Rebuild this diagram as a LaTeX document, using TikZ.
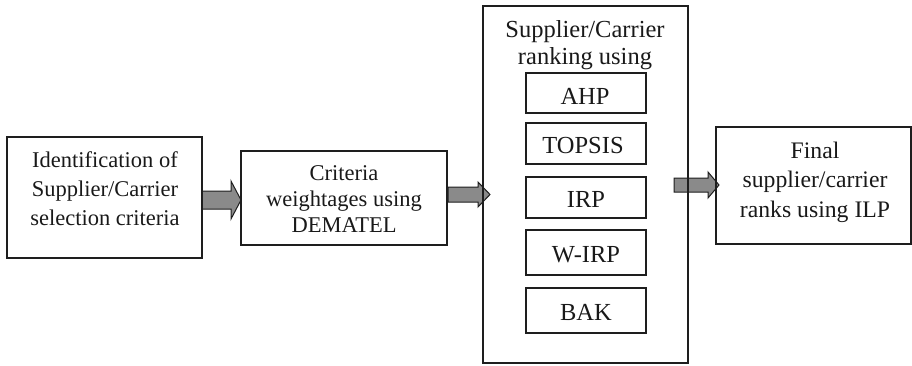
\documentclass[tikz,border=0pt]{standalone}
\usepackage{fontspec}
\setmainfont{Liberation Serif}
\definecolor{arrowgray}{RGB}{138,138,138}
\definecolor{linegray}{RGB}{30,30,30}
\begin{document}
\begin{tikzpicture}[x=1pt,y=-1pt,
  box/.style={draw=linegray,line width=1.2pt,inner sep=0pt,rectangle},
  blockarrow/.style={draw=linegray,line width=1pt,fill=arrowgray,line join=miter},
  txt/.style={inner sep=0pt,align=center,anchor=base,text=black!90},
  fa/.style={font=\fontsize{22.5}{29}\selectfont},
  fb/.style={font=\fontsize{22.5}{26}\selectfont},
  fc/.style={font=\fontsize{24.5}{27}\selectfont},
  fd/.style={font=\fontsize{23.7}{29.5}\selectfont},
  fe/.style={font=\fontsize{24.5}{27}\selectfont}]
\useasboundingbox (0,0) rectangle (912,365);
% block arrows
\draw[blockarrow] (202,191) -- (231,191) -- (231,181) -- (241,200) -- (231,219) -- (231,209) -- (202,209) -- cycle;
\draw[blockarrow] (448,187) -- (478,187) -- (478,182) -- (490,194.5) -- (478,207) -- (478,202) -- (448,202) -- cycle;
\draw[blockarrow] (674,178) -- (708,178) -- (708,172) -- (719,185) -- (708,198) -- (708,192) -- (674,192) -- cycle;
% boxes
\node[box,minimum width=195pt,minimum height=121pt] (b1) at (104.5,197.5) {};
\node[box,minimum width=206pt,minimum height=94pt] (b2) at (344,198) {};
\node[box,minimum width=205pt,minimum height=357pt] (b3) at (585.5,184.5) {};
\node[box,minimum width=195pt,minimum height=117pt] (b4) at (813.5,185.5) {};
\node[box,minimum width=120pt,minimum height=40pt] (m1) at (586,93) {};
\node[box,minimum width=120pt,minimum height=41pt] (m2) at (586,143.5) {};
\node[box,minimum width=120pt,minimum height=41pt] (m3) at (586,197.5) {};
\node[box,minimum width=120pt,minimum height=45pt] (m4) at (586,252.5) {};
\node[box,minimum width=120pt,minimum height=45pt] (m5) at (586,310.5) {};
% texts (base anchor = baseline of the last line)
\node[txt,fa] (t1) at (105,225) {Identification of\\Supplier/Carrier\\selection criteria};
\node[txt,fb] (t2) at (344,232) {Criteria\\weightages using\\DEMATEL};
\node[txt,fc] (t3) at (585,64) {Supplier/Carrier\\ranking using};
\node[txt,fd] (t4) at (815,217) {Final\\supplier/carrier\\ranks using ILP};
\node[txt,fe] (u1) at (585,104) {AHP};
\node[txt,fe] (u2) at (583,153) {TOPSIS};
\node[txt,fe] (u3) at (586,207) {IRP};
\node[txt,fe] (u4) at (586,262) {W-IRP};
\node[txt,fe] (u5) at (586,320) {BAK};
\end{tikzpicture}
\end{document}
